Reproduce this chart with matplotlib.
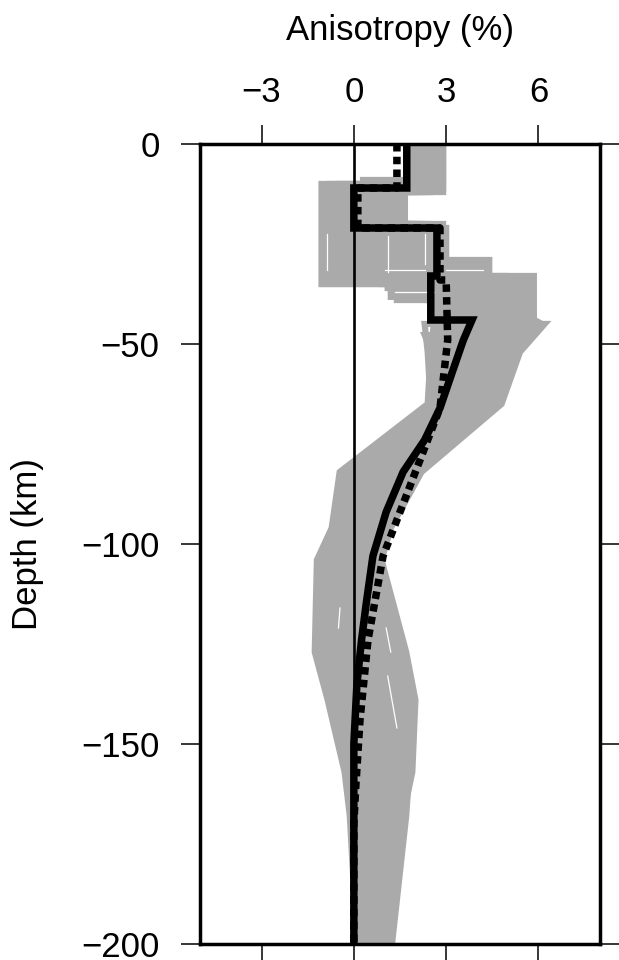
import matplotlib
matplotlib.use("Agg")
import matplotlib.pyplot as plt

plt.rcParams['font.family'] = ['Liberation Sans', 'DejaVu Sans']

# outer envelope of the gray ensemble (value, depth), right side and left side top-down
env_right_x = [2.93, 2.93, 1.66, 1.66, 1.45, 1.45, 3.0, 3.0, 4.43, 4.43, 5.85, 5.85,
               6.2, 5.85, 5.4, 5.1, 4.8, 3.95, 1.93, 1.3, 0.9, 1.35, 1.72, 2.0,
               1.8, 1.88, 1.66, 1.24, 1.2]
env_right_y = [0, -12, -12, -14.5, -14.5, -20.7, -20.7, -29.4, -29.4, -33, -33, -43,
               -44.5, -49, -51.5, -57, -64, -69, -84.6, -95, -104, -115, -127, -137,
               -144, -157, -168, -197, -200]
env_left_x = [1.8, 1.8, 1.0, 1.0, -1.05, -1.05, 0.0, 0.0, 1.1, 1.1, 2.55, 2.55,
              2.15, 2.26, 2.6, 2.37, 2.05, -0.46, -0.5, -0.72, -1.2, -1.0, -1.27,
              -0.85, -0.13, 0.0]
env_left_y = [0, -8.3, -8.3, -10.3, -10.3, -35, -35, -35.5, -35.5, -39, -39, -47,
              -47, -49, -54, -65.7, -69, -81.5, -84, -96, -104, -108, -127,
              -139, -166, -200]

# gray ensemble: crustal step layers (bottom depth, value) then mantle nodes
step_bottoms = [
    [-12, -20, -33, -45],
    [-11, -21, -29, -45],
    [-10, -20, -35, -45],
    [-12, -20, -35, -45],
    [-9, -20, -36, -45],
    [-11, -21, -39, -45],
    [-10, -20, -33, -45],
    [-12, -21, -34, -45],
    [-10, -21, -35, -45],
    [-11, -20, -39, -45],
    [-12, -21, -34, -45],
    [-10, -20, -36, -45],
    [-11, -20, -35, -45],
    [-12, -21, -33, -45],
    [-10, -20, -34, -45],
    [-11, -21, -37, -45],
    [-12, -20, -35, -45],
]
step_values = [
    [2.9, 1.6, 2.9, 5.85],
    [2.5, 1.2, 2.6, 4.4],
    [2.2, 0.8, 2.2, 5.0],
    [1.8, -1.0, -1.0, 4.6],
    [2.0, 0.3, 1.1, 4.2],
    [2.7, 1.5, 1.4, 3.8],
    [2.4, -0.5, 0.6, 3.4],
    [2.0, 0.0, 2.6, 3.0],
    [2.3, -1.05, -1.05, 2.6],
    [2.9, 1.0, 2.4, 2.6],
    [2.4, 1.66, 3.0, 5.5],
    [1.9, 0.5, 1.8, 4.0],
    [2.6, 1.3, 2.0, 5.3],
    [2.2, 0.6, 1.6, 4.9],
    [2.8, -0.8, 0.2, 3.6],
    [2.1, 1.1, 2.8, 4.5],
    [2.5, -0.2, 0.9, 2.7],
]
node_depths = [-45, -52, -65, -82, -96, -104, -127, -139, -157, -168, -200]
node_values = [
    [6.2, 5.4, 4.8, 2.2, 1.2, 0.9, 1.7, 2.0, 1.9, 1.6, 1.2],
    [5.8, 5.0, 4.3, 1.9, 1.0, 0.7, 1.5, 1.8, 1.8, 1.7, 1.24],
    [5.2, 4.6, 3.8, 1.6, 0.8, 0.5, 1.2, 1.5, 1.5, 1.4, 1.0],
    [4.8, 4.2, 3.5, 1.3, 0.5, 0.2, 0.9, 1.2, 1.3, 1.2, 0.9],
    [4.4, 3.9, 3.2, 0.9, 0.2, -0.2, 0.5, 0.9, 1.0, 1.0, 0.8],
    [4.0, 3.5, 3.0, 0.5, -0.2, -0.6, 0.1, 0.5, 0.8, 0.8, 0.6],
    [3.6, 3.2, 2.8, 0.1, -0.5, -0.9, -0.5, 0.0, 0.5, 0.6, 0.5],
    [3.2, 2.8, 2.6, -0.3, -0.7, -1.1, -1.0, -0.5, 0.1, 0.3, 0.3],
    [2.6, 2.5, 2.4, -0.46, -0.72, -1.2, -1.27, -0.85, -0.3, -0.13, 0.1],
    [2.3, 2.4, 2.5, 0.3, -0.4, -0.8, -0.9, -0.3, 0.3, 0.4, 0.2],
    [5.5, 4.8, 4.5, 2.0, 1.1, 0.8, 1.0, 1.4, 1.7, 1.5, 1.1],
    [3.8, 3.0, 2.9, 1.0, 0.3, 0.0, 0.0, 0.4, 0.9, 1.0, 0.7],
    [5.9, 5.2, 4.6, 2.1, 1.1, 0.8, 1.6, 1.9, 1.6, 1.3, 1.0],
    [5.0, 4.4, 3.6, 1.4, 0.6, 0.3, 1.0, 1.3, 1.2, 1.1, 0.8],
    [3.4, 3.0, 2.7, -0.2, -0.6, -1.0, -1.2, -0.7, -0.1, 0.1, 0.2],
    [4.6, 4.0, 3.3, 0.7, 0.0, -0.4, 0.3, 0.7, 1.1, 0.9, 0.6],
    [2.9, 2.6, 2.5, -0.1, -0.5, -0.9, -0.7, -0.2, 0.2, 0.2, 0.05],
]

# thin white gaps seen between overlapping ensemble members
gap_x = [[-0.88, -0.88], [1.1, 1.1], [2.3, 2.3], [1.0, 2.3], [1.35, 2.6],
         [3.0, 4.2], [-0.45, -0.5], [1.05, 1.2], [1.1, 1.4]]
gap_y = [[-22.6, -31.5], [-23, -32], [-22.6, -30], [-31.5, -31.5], [-37, -37],
         [-31.5, -31.5], [-116, -121], [-121, -127], [-133, -146]]

# black solid model
model_x = [1.72, 1.72, 0, 0, 2.7, 2.7, 2.5, 2.5, 3.84, 3.56, 3.2, 2.8, 2.3,
           1.6, 1.05, 0.62, 0.4, 0.25, 0.1, 0.0, 0.0]
model_y = [0, -11, -11, -21, -21, -33, -33, -44, -44, -49, -57, -66, -74,
           -82, -92, -103, -115, -124, -135, -150, -200]

# black dotted model
dot_x = [1.4, 1.4, 0.13, 0.13, 2.8, 2.8, 3.0, 3.05, 2.8, 2.0, 0.95, 0.46,
         0.2, 0.06, 0.0, 0.0]
dot_y = [0, -11, -11, -21, -21, -34, -34, -49, -66, -82, -103, -124,
         -144, -161, -170, -200]

gray = '#aaaaaa'

fig = plt.figure(figsize=(6.19, 9.6), dpi=100)
ax = fig.add_axes([200/619, 16/960, 400/619, 800/960])

ax.fill(env_right_x + env_left_x[::-1], env_right_y + env_left_y[::-1],
        color=gray, lw=0, zorder=1)

for bots, vals, nv in zip(step_bottoms, step_values, node_values):
    xs, ys = [], []
    top = 0
    for b, v in zip(bots, vals):
        xs += [v, v]
        ys += [top, b]
        top = b
    xs += nv
    ys += node_depths
    ax.plot(xs, ys, color=gray, lw=4.5, solid_joinstyle='miter', zorder=1)

for gx, gy in zip(gap_x, gap_y):
    ax.plot(gx, gy, color='white', lw=0.9, zorder=1.5)

ax.axvline(0, color='black', lw=1.9, zorder=2)
ax.plot(model_x, model_y, color='black', lw=5.4, solid_joinstyle='miter', zorder=3)
ax.plot(dot_x, dot_y, color='black', lw=5.4, dashes=(1.0, 0.7),
        dash_capstyle='butt', zorder=3)

ax.set_xlim(-5, 8)
ax.set_ylim(-200, 0)
ax.set_xticks([-3, 0, 3, 6])
ax.set_yticks([0, -50, -100, -150, -200])
ax.xaxis.set_label_position('top')
ax.set_xlabel('Anisotropy (%)', fontsize=25, labelpad=26)
ax.set_ylabel('Depth (km)', fontsize=25, labelpad=27)
ax.tick_params(axis='both', direction='out', length=14, width=1.1,
               labelsize=25, top=True, right=True,
               labeltop=True, labelbottom=False, labelright=False, labelleft=True)
ax.tick_params(axis='x', pad=11)
ax.tick_params(axis='y', pad=15)
for s in ax.spines.values():
    s.set_linewidth(2.5)

fig.savefig('out.png', dpi=100)
